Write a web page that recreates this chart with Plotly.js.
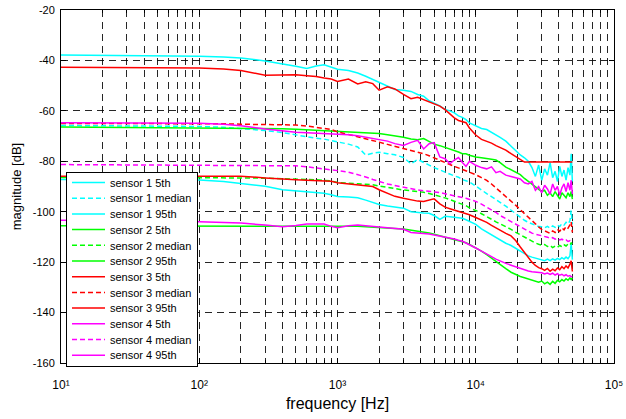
<!DOCTYPE html>
<html><head><meta charset="utf-8">
<script src="https://cdn.plot.ly/plotly-3.0.1.min.js"></script>
<style>html,body{margin:0;padding:0;background:#fff}#chart{width:626px;height:419px}</style>
</head><body><div id="chart"></div>
<script>
// frequency grid [Hz]
const freq = [10, 20, 50, 100, 150, 200, 300, 400, 500, 600, 700, 800, 900,
  1000, 1200, 1400, 1600, 1800, 2000, 2300, 2600, 3000, 3400,
  3800, 4200, 4600, 5000, 5500, 6000, 6500, 7000, 7500, 8000,
  8500, 9000, 10000, 11000, 12000, 13000, 14000, 15000, 16500, 18000,
  19500, 21000, 22500, 24000, 25500, 27000, 28500, 30000, 31500, 33000,
  34500, 36000, 37500, 39000, 40500, 42000, 43500, 45000, 46500, 48000, 49000, 50000];

// sensor 1 (cyan)
const s1p5 = [-87.2, -87.2, -87.3, -87.4, -88.0, -88.7, -89.9, -91.3, -91.7, -92.2, -92.5, -92.7, -93.3,
  -94.0, -94.2, -94.5, -95.4, -96.3, -97.1, -97.7, -98.2, -98.6, -100.0,
  -100.4, -100.5, -100.6, -101.5, -103.0, -101.8, -102.0, -102.2, -102.3, -102.6,
  -103.2, -103.8, -105.0, -106.8, -108.0, -109.3, -110.3, -111.3, -112.5, -113.4,
  -114.6, -115.8, -116.8, -117.5, -118.0, -118.4, -118.8, -119.0, -119.4, -118.8,
  -119.4, -118.7, -119.2, -118.5, -119.0, -118.2, -118.8, -118.0, -118.6, -117.5, -112.5, -119.0];
const s1med = [-65.8, -65.9, -66.0, -66.2, -66.5, -67.0, -67.8, -68.6, -69.6, -70.5, -70.9, -71.2, -71.8,
  -72.5, -73.2, -74.3, -77.5, -76.8, -76.4, -77.0, -77.4, -78.5, -81.0,
  -79.3, -80.3, -81.5, -82.5, -83.5, -84.3, -85.0, -85.8, -86.3, -87.3,
  -87.7, -88.2, -89.8, -91.5, -92.8, -94.0, -95.3, -96.3, -97.8, -99.3,
  -100.8, -102.3, -103.4, -104.2, -104.9, -105.4, -105.9, -106.0, -106.4, -105.8,
  -106.5, -105.6, -106.2, -105.3, -105.9, -104.7, -105.3, -104.2, -104.8, -103.6, -99.5, -105.0];
const s1p95 = [-37.8, -37.9, -38.0, -38.3, -38.6, -39.0, -40.2, -41.3, -42.3, -43.2, -42.2, -41.7, -42.5,
  -43.5, -44.0, -45.0, -46.3, -47.6, -48.5, -50.3, -51.5, -51.8, -52.3,
  -53.5, -54.2, -56.0, -56.8, -58.0, -59.5, -60.0, -60.8, -62.0, -62.6,
  -63.5, -64.8, -65.8, -67.0, -67.4, -68.5, -69.3, -70.5, -72.0, -74.0,
  -75.5, -77.5, -78.6, -80.0, -82.5, -86.0, -81.5, -87.5, -83.0, -85.5,
  -80.5, -86.5, -84.0, -88.0, -82.0, -86.0, -83.5, -87.5, -82.5, -85.5, -77.0, -88.0];

// sensor 2 (green)
const s2p5 = [-105.6, -105.6, -105.6, -105.6, -105.6, -105.6, -105.6, -105.6, -105.6, -105.6, -105.6, -105.6, -105.6,
  -105.6, -105.7, -105.8, -106.0, -106.1, -106.2, -106.5, -106.7, -106.9, -107.3,
  -107.8, -108.1, -108.4, -108.9, -109.5, -110.0, -110.5, -111.0, -111.4, -111.7,
  -112.3, -113.0, -114.3, -115.6, -117.0, -118.5, -119.8, -121.0, -122.6, -124.0,
  -125.0, -125.7, -126.2, -126.7, -127.0, -127.4, -128.0, -127.5, -128.6, -127.9,
  -128.8, -127.6, -128.4, -127.2, -127.8, -126.9, -127.5, -126.6, -127.2, -126.3, -126.9, -126.3];
const s2med = [-86.4, -86.4, -86.4, -86.4, -86.5, -86.6, -86.7, -86.8, -87.0, -87.2, -87.3, -87.5, -87.8,
  -88.4, -88.8, -88.9, -89.1, -89.3, -89.8, -90.4, -91.0, -91.4, -91.7,
  -91.9, -92.3, -92.8, -93.3, -93.9, -94.5, -95.2, -95.8, -96.3, -96.9,
  -97.6, -98.5, -99.5, -100.8, -101.8, -103.0, -104.0, -104.8, -106.0, -107.0,
  -108.2, -109.2, -110.2, -111.0, -111.8, -112.4, -112.9, -113.3, -113.0, -113.8,
  -113.4, -114.2, -113.6, -114.1, -113.4, -113.9, -113.1, -113.6, -112.8, -113.2, -112.4, -112.8];
const s2p95 = [-66.4, -66.5, -66.6, -66.7, -66.7, -66.8, -66.9, -67.1, -67.3, -67.5, -67.7, -67.9, -68.0,
  -68.0, -68.2, -68.4, -68.5, -68.7, -69.0, -69.5, -69.9, -70.5, -71.2,
  -71.5, -71.0, -72.0, -73.2, -73.8, -74.5, -75.1, -75.5, -76.3, -77.0,
  -77.0, -77.6, -78.3, -78.6, -78.8, -79.2, -79.5, -80.5, -82.3, -83.5,
  -84.5, -85.3, -86.8, -88.0, -89.0, -90.3, -91.0, -92.0, -91.5, -93.5,
  -92.5, -94.0, -92.0, -93.5, -95.0, -92.5, -93.5, -94.5, -92.5, -94.0, -92.0, -95.0];

// sensor 3 (red)
const s3p5 = [-85.9, -85.9, -85.8, -85.7, -85.8, -85.9, -86.6, -87.1, -87.3, -87.5, -87.6, -87.8, -87.9,
  -88.5, -88.9, -89.3, -89.6, -90.0, -91.3, -92.8, -93.9, -94.7, -95.3,
  -95.8, -95.9, -95.5, -94.9, -96.9, -98.2, -98.8, -99.3, -99.8, -100.4,
  -100.8, -101.2, -102.3, -103.3, -104.2, -105.4, -106.5, -107.5, -108.6, -109.6,
  -111.5, -114.0, -116.3, -118.3, -120.0, -121.3, -122.2, -122.6, -123.3, -122.5,
  -123.6, -122.8, -123.4, -122.3, -123.0, -121.8, -122.6, -121.5, -122.3, -120.8, -119.5, -123.7];
const s3med = [-65.0, -65.0, -65.0, -65.0, -65.1, -65.3, -65.4, -65.5, -65.6, -66.0, -66.5, -67.0, -67.4,
  -68.3, -69.3, -70.3, -71.1, -71.8, -72.4, -73.3, -74.0, -74.8, -75.5,
  -76.2, -77.0, -77.8, -78.7, -79.6, -80.5, -81.3, -82.0, -82.6, -83.2,
  -83.7, -84.3, -85.3, -86.5, -87.6, -89.0, -90.5, -92.0, -94.0, -95.8,
  -97.5, -99.2, -100.8, -102.3, -103.7, -105.0, -106.0, -107.0, -107.6, -108.0,
  -108.6, -107.6, -108.2, -107.0, -107.8, -106.4, -107.2, -105.8, -106.5, -105.2, -104.0, -108.2];
const s3p95 = [-42.7, -42.8, -42.9, -43.0, -43.4, -44.0, -45.9, -45.8, -45.7, -46.1, -46.4, -47.0, -47.4,
  -48.3, -47.4, -49.3, -48.5, -49.2, -51.8, -50.5, -51.3, -53.5, -55.2,
  -54.6, -55.5, -56.3, -57.0, -58.1, -59.5, -61.3, -62.8, -63.8, -64.2,
  -64.7, -66.8, -69.6, -71.3, -72.0, -72.8, -73.8, -74.6, -75.6, -77.0,
  -78.3, -79.2, -80.3, -80.3, -80.3, -80.3, -80.3, -80.3, -80.3, -80.3,
  -80.3, -80.3, -80.3, -80.3, -80.3, -80.3, -80.3, -80.3, -80.3, -80.3, -80.3, -80.3];

// sensor 4 (magenta)
const s4p5 = [-103.4, -103.5, -103.6, -104.0, -104.3, -104.5, -105.3, -106.0, -105.5, -104.9, -104.9, -104.9, -105.8,
  -106.4, -105.6, -105.3, -105.6, -105.9, -106.2, -106.5, -106.8, -107.0, -108.2,
  -108.4, -108.6, -108.8, -109.2, -109.6, -110.0, -110.2, -110.8, -111.3, -111.7,
  -112.4, -113.2, -114.4, -115.6, -116.6, -117.8, -118.8, -119.6, -120.5, -121.2,
  -121.9, -122.5, -123.0, -123.5, -123.8, -124.0, -124.3, -124.2, -124.7, -124.3,
  -124.9, -124.4, -125.1, -124.6, -125.2, -124.8, -125.4, -125.0, -125.6, -125.3, -125.8, -125.7];
const s4med = [-81.3, -81.4, -81.5, -81.5, -81.6, -81.6, -81.7, -81.7, -81.8, -82.2, -82.6, -82.9, -83.3,
  -83.7, -84.3, -85.2, -86.2, -87.2, -88.0, -89.0, -89.6, -90.3, -91.0,
  -91.4, -91.7, -91.9, -92.1, -92.4, -92.9, -93.4, -93.8, -94.1, -94.4,
  -94.7, -95.1, -95.9, -97.0, -98.1, -99.1, -100.3, -101.5, -102.8, -103.8,
  -105.0, -106.0, -107.0, -107.9, -108.5, -108.9, -109.2, -109.6, -109.9, -110.1,
  -110.6, -110.3, -110.9, -110.6, -111.2, -110.9, -111.5, -111.2, -111.8, -111.5, -112.1, -112.0];
const s4p95 = [-64.7, -64.7, -64.8, -64.9, -65.3, -65.9, -67.2, -68.0, -68.5, -68.7, -68.9, -68.9, -69.0,
  -69.1, -69.5, -69.9, -70.5, -71.0, -71.3, -72.0, -73.0, -73.7, -72.5,
  -71.7, -75.1, -73.0, -72.6, -78.3, -79.0, -81.0, -79.5, -78.5, -80.5,
  -82.0, -80.0, -81.6, -82.5, -83.0, -82.2, -84.5, -84.0, -85.5, -86.0,
  -86.5, -87.0, -88.5, -89.0, -88.0, -91.5, -90.0, -92.5, -89.5, -91.0,
  -93.0, -89.0, -91.5, -90.0, -93.5, -90.5, -89.0, -92.0, -88.5, -91.5, -87.5, -93.0];

// legend labels and ticks
const seriesNames = ['sensor 1 5th', 'sensor 1 median', 'sensor 1 95th',
  'sensor 2 5th', 'sensor 2 median', 'sensor 2 95th',
  'sensor 3 5th', 'sensor 3 median', 'sensor 3 95th',
  'sensor 4 5th', 'sensor 4 median', 'sensor 4 95th'];
const xTickVals = [10, 100, 1000, 10000, 100000];
const xTickText = ['10\u00B9', '10\u00B2', '10\u00B3', '10\u2074', '10\u2075'];
const xMinorVals = [20, 30, 40, 50, 60, 70, 80, 90,
  200, 300, 400, 500, 600, 700, 800, 900,
  2000, 3000, 4000, 5000, 6000, 7000, 8000, 9000,
  20000, 30000, 40000, 50000, 60000, 70000, 80000, 90000];
const yTickVals = [-160, -140, -120, -100, -80, -60, -40, -20];
const yTickText = ['-160', '-140', '-120', '-100', '-80', '-60', '-40', '-20'];

const seriesValues = [s1p5, s1med, s1p95, s2p5, s2med, s2p95, s3p5, s3med, s3p95, s4p5, s4med, s4p95];
const palette = ['#00FFFF', '#00FF00', '#FF0000', '#FF00FF'];

const data = seriesValues.map(function (vals, i) {
  const isMedian = (i % 3) === 1;
  return {
    type: 'scatter', mode: 'lines', x: freq, y: vals, name: seriesNames[i],
    line: {color: palette[Math.floor(i / 3)], width: 1.5, dash: isMedian ? '5px,3px' : 'solid'},
    hoverinfo: 'skip'
  };
});

const gridCol = 'rgba(0,0,0,0.85)';
const layout = {
  width: 626, height: 419,
  margin: {l: 61, r: 12, t: 10, b: 49},
  paper_bgcolor: '#ffffff', plot_bgcolor: '#ffffff',
  font: {family: '"Liberation Sans", Arial, sans-serif', size: 11, color: '#000'},
  showlegend: true,
  legend: {x: 0.009, y: 0.55, xanchor: 'left', yanchor: 'top', bgcolor: '#ffffff',
    bordercolor: '#000', borderwidth: 1, font: {size: 11, color: '#000'}, itemwidth: 33,
    tracegroupgap: 0},
  xaxis: {
    type: 'log', range: [1, 5], tickmode: 'array', tickvals: xTickVals, ticktext: xTickText,
    ticks: 'inside', ticklen: 5, tickcolor: '#000', tickwidth: 1, ticklabelstandoff: 11,
    showline: true, linecolor: '#000', linewidth: 1, mirror: 'allticks',
    showgrid: true, gridcolor: gridCol, gridwidth: 1, griddash: '7px,5px', zeroline: false,
    minor: {tickmode: 'array', tickvals: xMinorVals, ticks: 'inside', ticklen: 3, tickcolor: '#000',
      showgrid: true, gridcolor: gridCol, gridwidth: 1, griddash: '7px,5px'},
    tickfont: {size: 12, color: '#000'},
    title: {text: 'frequency [Hz]', font: {size: 16, color: '#000'}, standoff: 6}
  },
  yaxis: {
    range: [-160, -20], tickmode: 'array', tickvals: yTickVals, ticktext: yTickText,
    ticks: 'inside', ticklen: 5, tickcolor: '#000', tickwidth: 1, ticklabelstandoff: 3,
    showline: true, linecolor: '#000', linewidth: 1, mirror: 'allticks',
    showgrid: true, gridcolor: gridCol, gridwidth: 1, griddash: '7px,5px', zeroline: false,
    tickfont: {size: 11, color: '#000'},
    title: {text: 'magnitude [dB]', font: {size: 13, color: '#000'}, standoff: 8}
  }
};

const gd = document.getElementById('chart');
Plotly.newPlot(gd, data, layout, {staticPlot: true, displayModeBar: false}).then(function () {
  const step = 15.7;
  const first = 10.5;
  const leg = gd.querySelector('g.legend');
  if (leg) leg.setAttribute('transform', 'translate(66,172)');
  const items = gd.querySelectorAll('g.legend g.traces');
  items.forEach(function (el, i) {
    const m = /translate\(\s*([-\d.e]+)[ ,]+([-\d.e]+)\s*\)/.exec(el.getAttribute('transform') || '');
    if (!m) return;
    const x = parseFloat(m[1]);
    el.setAttribute('transform', 'translate(' + x + ',' + (first + i * step) + ')');
  });
  const bg = gd.querySelector('g.legend rect.bg');
  if (bg && items.length) {
    bg.setAttribute('height', (2 * first + (items.length - 1) * step).toFixed(1));
  }
});
</script>
</body></html>
